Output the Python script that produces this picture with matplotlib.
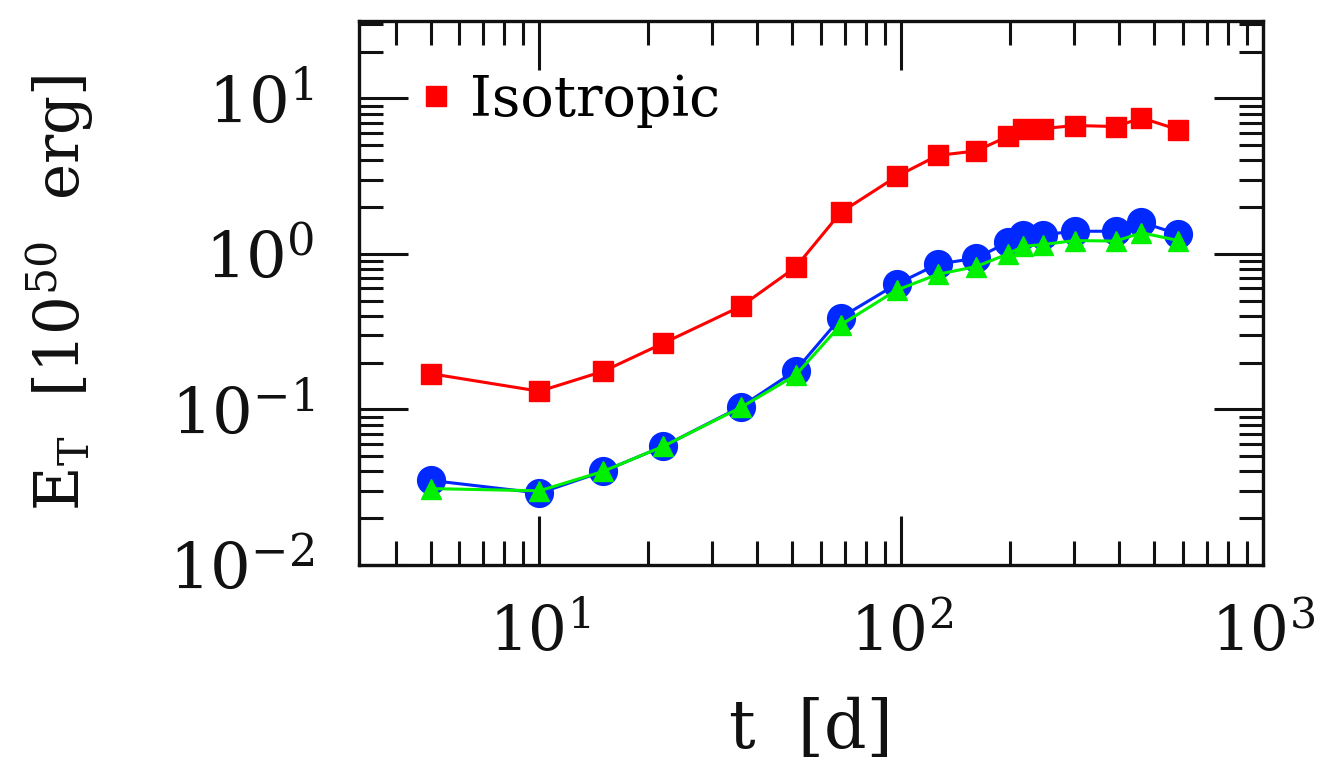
import matplotlib
matplotlib.use("Agg")
import matplotlib.pyplot as plt
from matplotlib.lines import Line2D
from matplotlib.ticker import LogLocator, NullFormatter

plt.rcParams["font.family"] = ["DejaVu Serif"]
plt.rcParams["mathtext.fontset"] = "dejavuserif"

RED, BLUE, GREEN, INK = "#ff0000", "#0028ff", "#00f000", "#111111"

# epochs [d] and energies [1e50 erg]
t_days = [5, 10, 15, 22, 36, 51, 68, 97, 126, 161, 197, 217, 246, 302, 392, 461, 583]
e_iso = [0.170, 0.131, 0.176, 0.267, 0.46, 0.82, 1.85, 3.15, 4.3, 4.6, 5.7, 6.4, 6.4,
         6.7, 6.6, 7.5, 6.3]
e_blue = [0.035, 0.029, 0.040, 0.058, 0.104, 0.178, 0.39, 0.64, 0.86, 0.94, 1.19, 1.32,
          1.33, 1.40, 1.40, 1.60, 1.34]
e_green = [0.031, 0.030, 0.040, 0.058, 0.103, 0.166, 0.35, 0.585, 0.74, 0.83, 1.00, 1.12,
           1.15, 1.22, 1.21, 1.37, 1.22]

fig = plt.figure(figsize=(13.33, 7.82), dpi=100, facecolor="white")
ax = fig.add_axes([0.269, 0.2775, 0.6786, 0.696])

ax.plot(t_days, e_iso, "-s", color=RED, ms=15, lw=2.2, mec=RED, zorder=3)
ax.plot(t_days, e_blue, "-o", color=BLUE, ms=20, lw=2.2, mec=BLUE, zorder=3)
ax.plot(t_days, e_green, "-^", color=GREEN, ms=15, lw=2.2, mec=GREEN, zorder=4)

ax.set_xscale("log")
ax.set_yscale("log")
ax.set_xlim(10 ** 0.5, 1e3)
ax.set_ylim(1e-2, 10 ** 1.5)

for axis in (ax.xaxis, ax.yaxis):
    axis.set_major_locator(LogLocator(base=10, numticks=10))
    axis.set_minor_locator(LogLocator(base=10, subs=range(2, 10), numticks=10))
    axis.set_minor_formatter(NullFormatter())

ax.tick_params(which="both", direction="in", top=True, right=True, colors=INK, width=2.2)
ax.tick_params(which="major", length=35)
ax.tick_params(axis="x", which="major", pad=28, labelsize=44)
ax.tick_params(axis="y", which="major", pad=32, labelsize=46)
ax.tick_params(which="minor", length=17)
for s in ax.spines.values():
    s.set_linewidth(2.4)
    s.set_color(INK)

ax.set_xlabel("t  [d]", fontsize=48, color=INK, labelpad=24)
ax.set_ylabel(r"$\mathrm{E_T}$  [10$^{50}$  erg]", fontsize=44, color=INK)
ax.yaxis.set_label_coords(-0.29, 0.5)

handle = Line2D([], [], marker="s", ls="none", color=RED, ms=15)
ax.legend([handle], ["Isotropic"], loc="upper left", bbox_to_anchor=(0.04, 0.945),
          frameon=False, fontsize=40, handletextpad=0.25, handlelength=0.7,
          borderaxespad=0)

fig.savefig("out.png", dpi=100, facecolor="white")
